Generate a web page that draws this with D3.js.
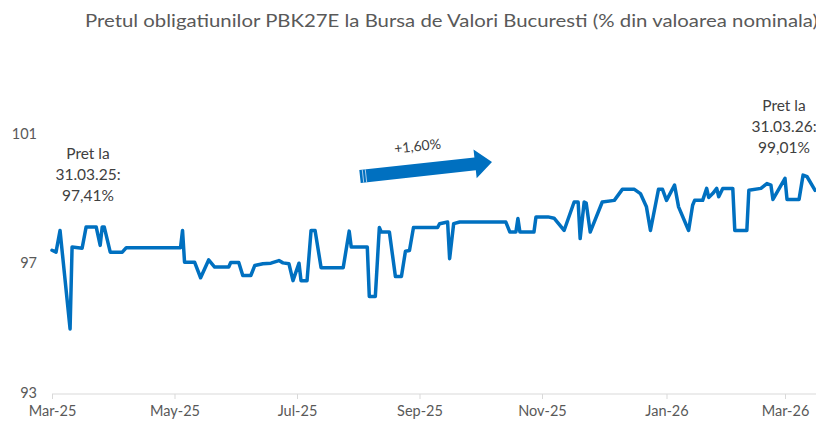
<!DOCTYPE html>
<html>
<head>
<meta charset="utf-8">
<script src="https://cdn.jsdelivr.net/npm/d3@7"></script>
<style>
  html, body { margin: 0; padding: 0; background: #fff; overflow: hidden; }
  svg { display: block; }
  text { font-family: Lato, "Open Sans", "DejaVu Sans", sans-serif; }
</style>
</head>
<body>
<div id="chart"></div>
<script>
// ---------- DATA ----------
const titleText = "Pretul obligatiunilor PBK27E la Bursa de Valori Bucuresti (% din valoarea nominala)";
const dates = [
  "2025-03-31","2025-04-02","2025-04-04","2025-04-09","2025-04-10","2025-04-15","2025-04-17","2025-04-22",
  "2025-04-24","2025-04-25","2025-04-26","2025-04-29","2025-05-05","2025-05-07","2025-06-03","2025-06-04",
  "2025-06-05","2025-06-10","2025-06-13","2025-06-17","2025-06-20","2025-06-27","2025-06-28","2025-07-02",
  "2025-07-04","2025-07-08","2025-07-10","2025-07-14","2025-07-18","2025-07-22","2025-07-24","2025-07-27",
  "2025-07-29","2025-08-01","2025-08-02","2025-08-05","2025-08-07","2025-08-09","2025-08-12","2025-08-23",
  "2025-08-26","2025-08-27","2025-09-04","2025-09-05","2025-09-08","2025-09-10","2025-09-11","2025-09-15",
  "2025-09-18","2025-09-21","2025-09-23","2025-09-25","2025-09-27","2025-10-09","2025-10-10","2025-10-14",
  "2025-10-15","2025-10-17","2025-10-20","2025-11-12","2025-11-14","2025-11-17","2025-11-18","2025-11-19",
  "2025-11-26","2025-11-27","2025-12-03","2025-12-06","2025-12-11","2025-12-16","2025-12-18","2025-12-19",
  "2025-12-21","2025-12-22","2025-12-24","2025-12-30","2026-01-05","2026-01-09","2026-01-15","2026-01-18",
  "2026-01-21","2026-01-23","2026-01-27","2026-01-29","2026-01-31","2026-02-04","2026-02-06","2026-02-11",
  "2026-02-13","2026-02-14","2026-02-18","2026-02-20","2026-02-21","2026-02-23","2026-02-25","2026-02-26",
  "2026-02-28","2026-03-05","2026-03-06","2026-03-12","2026-03-13","2026-03-19","2026-03-22","2026-03-24",
  "2026-03-25","2026-03-31","2026-04-01","2026-04-07","2026-04-09","2026-04-11","2026-04-15"
];
const prices = [
  97.41,97.35,98.02,94.98,97.51,97.47,98.13,98.13,
  97.56,98.13,98.13,97.35,97.35,97.49,97.49,98.02,
  97.04,97.04,96.56,97.11,96.89,96.89,97.03,97.03,
  96.63,96.63,96.94,96.99,97.01,97.09,97.02,96.99,
  96.47,97.01,96.47,96.47,98.02,98.02,96.87,96.87,
  98.00,97.51,97.51,95.98,95.98,98.11,97.97,97.97,
  96.60,96.60,97.38,97.40,98.11,98.11,98.23,98.28,
  97.15,98.23,98.28,98.28,97.97,97.97,98.39,97.97,
  97.97,98.44,98.44,98.40,98.02,98.90,98.90,97.77,
  98.90,98.87,97.97,98.90,98.95,99.29,99.29,99.16,
  98.75,98.02,99.29,99.29,98.95,99.42,98.75,98.02,
  98.80,98.95,98.95,99.32,99.04,99.16,99.32,99.06,
  99.32,99.32,98.02,98.02,99.26,99.32,99.47,99.42,
  98.98,99.63,98.98,98.98,99.73,99.68,99.26
];
const yTicks = [93, 97, 101];
const xTickDates = ["2025-03-31","2025-05-31","2025-07-31","2025-09-30","2025-11-30","2026-01-31","2026-03-31"];
const xTickLabels = ["Mar-25","May-25","Jul-25","Sep-25","Nov-25","Jan-26","Mar-26"];
const startNote = ["Pret la", "31.03.25:", "97,41%"];
const endNote = ["Pret la", "31.03.26:", "99,01%"];
const changeLabel = "+1,60%";

// ---------- CHART ----------
const W = 816, H = 421;
const parse = d3.timeParse("%Y-%m-%d");
const data = dates.map((d, i) => ({ date: parse(d), value: prices[i] }));

const svg = d3.select("#chart").append("svg")
  .attr("width", W).attr("height", H);

const x = d3.scaleTime()
  .domain([parse("2025-03-31"), parse("2026-03-31")])
  .range([52, 785]);
const y = d3.scaleLinear().domain([93, 101]).range([393, 134]);

const grey = "#595959";
const blue = "#0070C0";

// title
svg.append("text")
  .attr("x", 85).attr("y", 27)
  .attr("font-size", 17)
  .attr("fill", grey)
  .attr("textLength", 733)
  .attr("lengthAdjust", "spacingAndGlyphs")
  .text(titleText);

// y tick labels
svg.selectAll(".ylab").data(yTicks).enter().append("text")
  .attr("x", 37).attr("y", d => y(d) + 4.5)
  .attr("text-anchor", "end")
  .attr("font-size", 14.5)
  .attr("fill", grey)
  .text(d => d);

// x axis
const xAxis = d3.axisBottom(x)
  .tickValues(xTickDates.map(parse))
  .tickFormat((d, i) => xTickLabels[i])
  .tickSize(5)
  .tickSizeOuter(0);
const gx = svg.append("g").attr("transform", `translate(0,${y(93) + 1})`).call(xAxis);
gx.select(".domain").attr("stroke", "#D9D9D9").attr("d", `M${x(parse("2025-03-31"))},0H${W + 5}`);
gx.selectAll(".tick line").attr("stroke", "#D9D9D9");
gx.selectAll(".tick text")
  .attr("fill", grey)
  .attr("font-size", 14.5)
  .attr("font-family", "Lato, 'Open Sans', sans-serif")
  .attr("dy", "0.9em")
  .attr("y", 8.5);

// price line
const line = d3.line().x(d => x(d.date)).y(d => y(d.value));
svg.append("path")
  .datum(data)
  .attr("d", line)
  .attr("fill", "none")
  .attr("stroke", blue)
  .attr("stroke-width", 3.5)
  .attr("stroke-linejoin", "round")
  .attr("stroke-linecap", "round");

// annotations
function note(lines, cx, y0) {
  const t = svg.append("text")
    .attr("text-anchor", "middle")
    .attr("font-size", 15.5)
    .attr("fill", "#404040");
  lines.forEach((s, i) => {
    t.append("tspan").attr("x", cx).attr("y", y0 + i * 21).text(s);
  });
}
note(startNote, 88, 159);
note(endNote, 784, 111);

// trend arrow
const ax0 = 360, ay0 = 176.5, ax1 = 492, ay1 = 162;
const ang = Math.atan2(ay1 - ay0, ax1 - ax0) * 180 / Math.PI;
const len = Math.hypot(ax1 - ax0, ay1 - ay0);
const ga = svg.append("g").attr("transform", `translate(${ax0},${ay0}) rotate(${ang})`);
ga.append("path")
  .attr("d", `M0,-6.5 L${len - 17},-6.5 L${len - 17},-14.5 L${len},0 L${len - 17},14.5 L${len - 17},6.5 L0,6.5 Z`)
  .attr("fill", blue);
[3, 6].forEach(o => {
  ga.append("line").attr("x1", o).attr("x2", o).attr("y1", -6.5).attr("y2", 6.5)
    .attr("stroke", "#cfe0f2").attr("stroke-width", 0.8);
});
svg.append("text")
  .attr("transform", `translate(418,151) rotate(${ang})`)
  .attr("text-anchor", "middle")
  .attr("font-size", 14)
  .attr("fill", "#404040")
  .text(changeLabel);
</script>
</body>
</html>
